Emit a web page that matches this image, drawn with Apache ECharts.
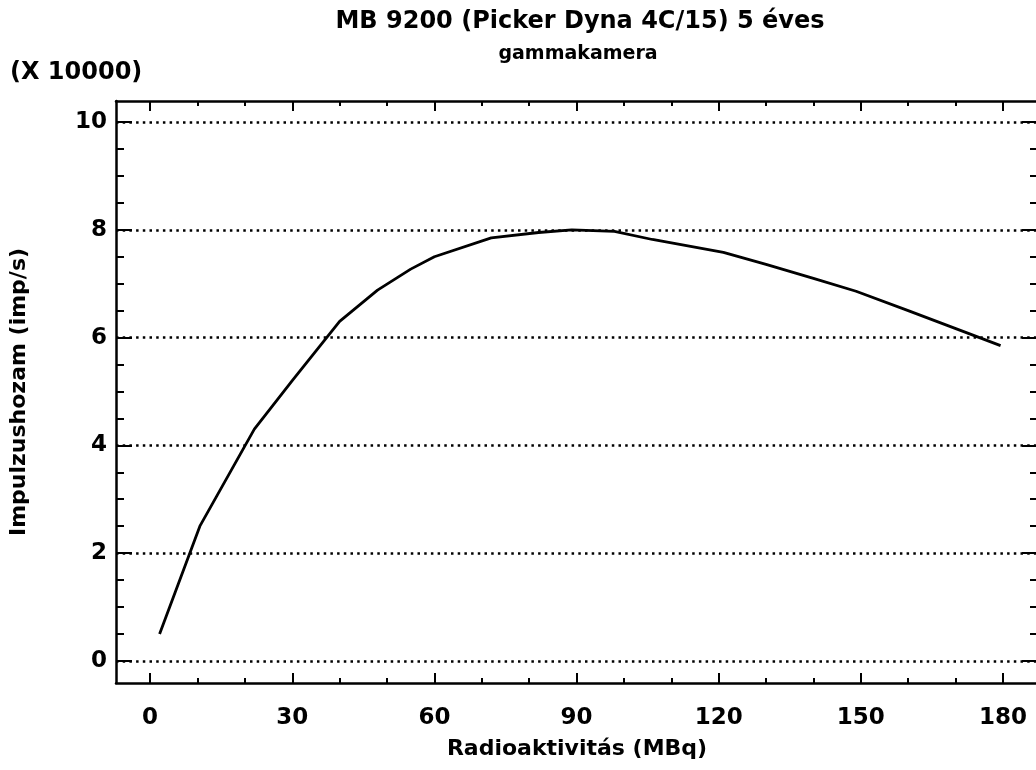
<!DOCTYPE html>
<html>
<head>
  <meta charset="utf-8">
</head>
<body style="margin: 0">
  <div id="container" style="width: 1036px; height: 770px"></div>
  <script type="text/javascript" src="https://cdn.jsdelivr.net/npm/echarts@6/dist/echarts.min.js"></script>
  <script type="text/javascript">
    // Radioaktivitás (MBq) -> Impulzushozam (x 10000 imp/s)
    var activity = [2, 10.5, 22, 30, 40, 48, 55, 60, 72, 82, 89, 98, 106, 121, 130, 140, 149, 160, 172, 179.5];
    var counts = [0.5, 2.5, 4.3, 5.2, 6.3, 6.88, 7.27, 7.5, 7.85, 7.95, 8.0, 7.97, 7.82, 7.58, 7.36, 7.1, 6.86, 6.5, 6.1, 5.85];

    var xMajor = [0, 30, 60, 90, 120, 150, 180];
    var xMinor = [10, 20, 40, 50, 70, 80, 100, 110, 130, 140, 160, 170];
    var yMajor = [0, 2, 4, 6, 8, 10];
    var yMinor = [0.5, 1, 1.5, 2.5, 3, 3.5, 4.5, 5, 5.5, 6.5, 7, 7.5, 8.5, 9, 9.5];

    var FONT = 'DejaVu Sans';
    var X_MIN = -7.2, X_MAX = 187.4;
    var Y_MIN = -0.41, Y_MAX = 10.39;

    var dom = document.getElementById('container');
    var myChart = echarts.init(dom, null, { renderer: 'canvas' });

    var points = activity.map(function (x, i) { return [x, counts[i]]; });

    var labelStyle = { color: '#000', fontFamily: FONT, fontSize: 23, fontWeight: 'bold' };
    var nameStyle = { color: '#000', fontFamily: FONT, fontSize: 22, fontWeight: 'bold' };

    function xAxisDef(position, ticks, len, showLine, showLabel) {
      return {
        type: 'value',
        position: position,
        min: X_MIN,
        max: X_MAX,
        axisLine: { show: showLine, onZero: false, lineStyle: { color: '#000', width: 2.5 } },
        axisTick: { show: true, inside: true, length: len, customValues: ticks, lineStyle: { color: '#000', width: 2 } },
        axisLabel: Object.assign({ show: showLabel, customValues: xMajor, margin: 24 }, labelStyle),
        splitLine: { show: false }
      };
    }

    function yAxisDef(position, ticks, len, showLine, showLabel) {
      return {
        type: 'value',
        position: position,
        min: Y_MIN,
        max: Y_MAX,
        axisLine: { show: showLine, onZero: false, lineStyle: { color: '#000', width: 2.5 } },
        axisTick: { show: true, inside: true, length: len, customValues: ticks, lineStyle: { color: '#000', width: 2 } },
        axisLabel: Object.assign({ show: showLabel, customValues: yMajor, margin: 9 }, labelStyle),
        splitLine: { show: false }
      };
    }

    var xBottom = xAxisDef('bottom', xMajor, 10, true, true);
    xBottom.name = 'Radioaktivitás (MBq)';
    xBottom.nameLocation = 'middle';
    xBottom.nameGap = 55;
    xBottom.nameTextStyle = nameStyle;

    var yLeft = yAxisDef('left', yMajor, 16, true, true);
    yLeft.name = 'Impulzushozam (imp/s)';
    yLeft.nameLocation = 'middle';
    yLeft.nameGap = 86;
    yLeft.nameTextStyle = nameStyle;

    var option = {
      animation: false,
      backgroundColor: '#fff',
      grid: { left: 116, right: -2, top: 101, bottom: 87, outerBoundsMode: 'none' },
      graphic: [
        { type: 'text', x: 580, y: 22,
          style: { text: 'MB 9200 (Picker Dyna 4C/15) 5 éves', fill: '#000', fontFamily: FONT, fontSize: 24, fontWeight: 'bold', align: 'center', verticalAlign: 'middle' } },
        { type: 'text', x: 578, y: 54,
          style: { text: 'gammakamera', fill: '#000', fontFamily: FONT, fontSize: 19, fontWeight: 'bold', align: 'center', verticalAlign: 'middle' } },
        { type: 'text', x: 10, y: 73,
          style: { text: '(X 10000)', fill: '#000', fontFamily: FONT, fontSize: 24, fontWeight: 'bold', verticalAlign: 'middle' } }
      ],
      xAxis: [
        xBottom,
        xAxisDef('bottom', xMinor, 5, false, false),
        xAxisDef('top', xMajor, 10, true, false),
        xAxisDef('top', xMinor, 5, false, false)
      ],
      yAxis: [
        yLeft,
        yAxisDef('left', yMinor, 8, false, false),
        yAxisDef('right', yMajor, 16, true, false),
        yAxisDef('right', yMinor, 8, false, false)
      ],
      series: [
        {
          type: 'line',
          data: points,
          xAxisIndex: 0,
          yAxisIndex: 0,
          showSymbol: false,
          symbol: 'none',
          lineStyle: { color: '#000', width: 2.8 },
          markLine: {
            silent: true,
            symbol: 'none',
            label: { show: false },
            lineStyle: { color: '#000', width: 2.5, type: [2.5, 4.2] },
            data: yMajor.map(function (v) { return { yAxis: v }; })
          },
          z: 3
        }
      ]
    };

    myChart.setOption(option);
    window.addEventListener('resize', myChart.resize);
  </script>
</body>
</html>
